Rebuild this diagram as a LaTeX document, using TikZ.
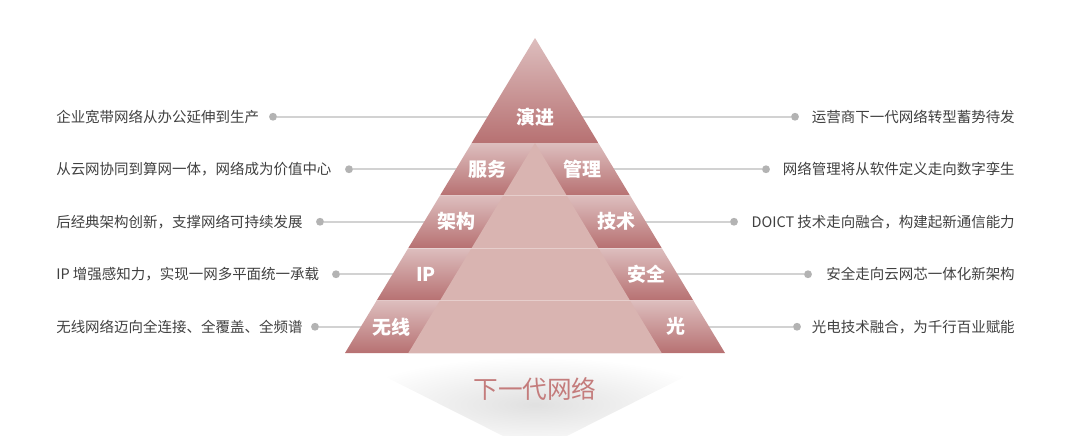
\documentclass[tikz,border=0pt]{standalone}
\usepackage{fontspec}
\setmainfont{Noto Sans CJK SC}
\usetikzlibrary{calc}

\definecolor{bandlight}{HTML}{DDBEBE}
\definecolor{banddark}{HTML}{B77172}
\definecolor{innerfill}{HTML}{D9B4B1}
\definecolor{linegray}{HTML}{D2D2D2}
\definecolor{dotgray}{HTML}{B3B3B3}
\definecolor{txtgray}{HTML}{404040}
\definecolor{titlered}{HTML}{C47C7C}

\tikzset{
    desc/.style={font=\fontsize{10.3}{12}\selectfont, text=txtgray, inner sep=0pt},
    tag/.style={font=\fontsize{13.5}{15}\selectfont\bfseries, text=white, inner sep=0pt},
    bullet/.style={circle, fill=dotgray, inner sep=0pt, minimum size=5.6pt},
    guide/.style={linegray, line width=1.1pt}
}

\begin{document}
\begin{tikzpicture}[x=0.025cm, y=-0.025cm]
\useasboundingbox (0,0) rectangle (1080,435);

% Shadow
\shade[inner color=gray!24, outer color=white] (346,357) -- (724,357) -- (535,452) -- cycle;

% Dots and texts, left
\node[bullet] (dl1) at (273,116.75) {};
\node[bullet] (dl2) at (349,169.25) {};
\node[bullet] (dl3) at (320,221.75) {};
\node[bullet] (dl4) at (336,274.25) {};
\node[bullet] (dl5) at (315,326.75) {};

\node[desc, anchor=west] (tl1) at (56,116.75) {企业宽带网络从办公延伸到生产};
\node[desc, anchor=west] (tl2) at (56,169.25) {从云网协同到算网一体，网络成为价值中心};
\node[desc, anchor=west] (tl3) at (56,221.75) {后经典架构创新，支撑网络可持续发展};
\node[desc, anchor=west] (tl4) at (56,274.25) {IP 增强感知力，实现一网多平面统一承载};
\node[desc, anchor=west] (tl5) at (56,326.75) {无线网络迈向全连接、全覆盖、全频谱};

% Dots and texts, right
\node[bullet] (dr1) at (795,116.75) {};
\node[bullet] (dr2) at (766,169.25) {};
\node[bullet] (dr3) at (734,221.75) {};
\node[bullet] (dr4) at (808,274.25) {};
\node[bullet] (dr5) at (797,326.75) {};

\node[desc, anchor=east] (tr1) at (1015,116.75) {运营商下一代网络转型蓄势待发};
\node[desc, anchor=east] (tr2) at (1015,169.25) {网络管理将从软件定义走向数字孪生};
\node[desc, anchor=east] (tr3) at (1015,221.75) {DOICT 技术走向融合，构建起新通信能力};
\node[desc, anchor=east] (tr4) at (1015,274.25) {安全走向云网芯一体化新架构};
\node[desc, anchor=east] (tr5) at (1015,326.75) {光电技术融合，为千行百业赋能};

% Guide lines
\foreach \i in {1,...,5}
    \draw[guide] (dl\i) -- (dr\i);

% Pyramid
\coordinate (apex) at (535,38);
\coordinate (bl) at (345,353);
\coordinate (br) at (725,353);

\shade[top color=bandlight, middle color=bandlight, bottom color=banddark]
    (apex) -- ($(apex)!2/6!(bl)$) -- ($(apex)!2/6!(br)$) -- cycle;
\foreach \a/\b in {2/3,3/4,4/5,5/6}
    \shade[top color=bandlight, bottom color=banddark]
        ($(apex)!\a/6!(bl)$) -- ($(apex)!\b/6!(bl)$) -- ($(apex)!\b/6!(br)$) -- ($(apex)!\a/6!(br)$) -- cycle;

% Inner triangle
\coordinate (ml) at ($(apex)!2/6!(bl)$);
\coordinate (mr) at ($(apex)!2/6!(br)$);
\coordinate (iapex) at ($(ml)!0.5!(mr)$);
\fill[innerfill] (iapex) -- ($(bl)!1/6!(br)$) -- ($(bl)!5/6!(br)$) -- cycle;
\foreach \a in {3,4,5}
    \draw[white, opacity=0.35, line width=0.6pt] ($(apex)!\a/6!(bl)$) -- ($(apex)!\a/6!(br)$);

% Labels
\node[tag] (evo) at (535,116.75) {演进};
\node[tag] (svc) at (487,169.25) {服务};
\node[tag] (mgt) at (582,169.25) {管理};
\node[tag] (arc) at (456,221.75) {架构};
\node[tag] (tec) at (616,221.75) {技术};
\node[tag] (ip) at (426,274.25) {IP};
\node[tag] (sec) at (646,274.25) {安全};
\node[tag] (wls) at (391,326.75) {无线};
\node[tag] (opt) at (676,326.75) {光};

% Title
\node[font=\fontsize{17.5}{20}\selectfont, text=titlered] (title) at (535,389) {下一代网络};

\end{tikzpicture}
\end{document}
